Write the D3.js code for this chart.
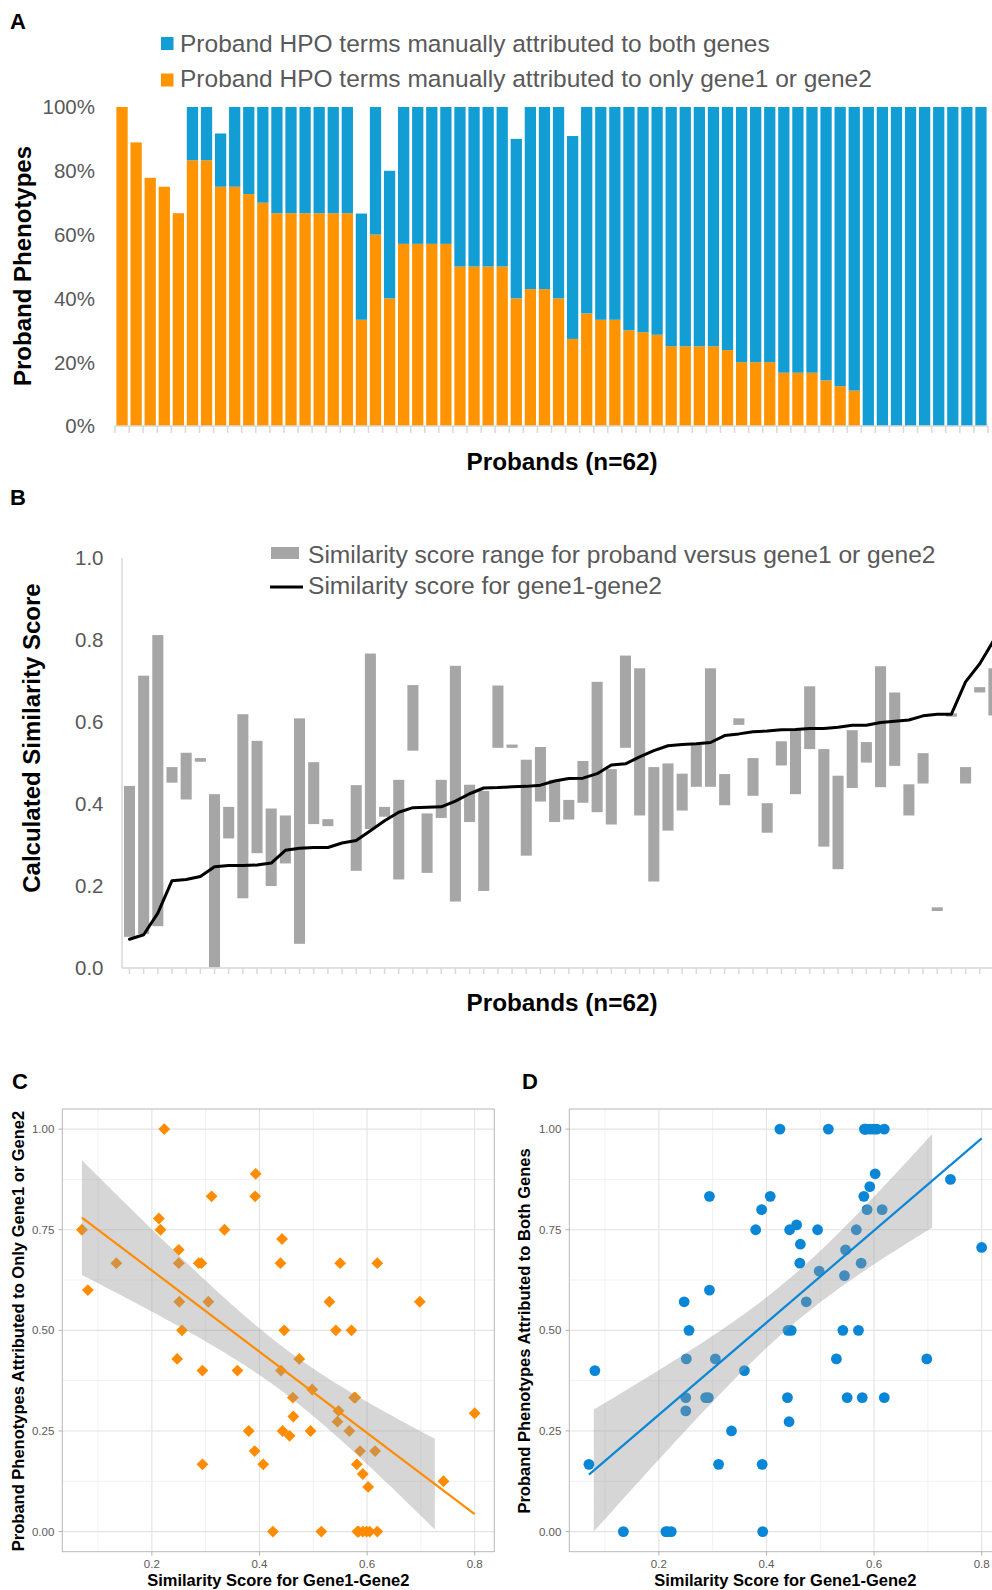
<!DOCTYPE html>
<html lang="en">
<head>
  <meta charset="UTF-8">
  <title>Proband phenotypes and similarity scores</title>
  <script src="https://d3js.org/d3.v7.min.js"></script>
  <style>
    body {
      margin: 0;
      padding: 0;
      background: #fff;
    }
    svg text {
      font-family: "Liberation Sans", Arial, sans-serif;
    }
  </style>
</head>
<body>
  <div id="chart"></div>

  <script>
    // ---- data, one entry per proband (order of panel A) ----
    const probandOnly = [1.0, 0.889, 0.778, 0.75, 0.667, 0.833, 0.833, 0.75, 0.75, 0.727,
      0.70, 0.667, 0.667, 0.667, 0.667, 0.667, 0.667, 0.333, 0.60, 0.40,
      0.571, 0.571, 0.571, 0.571, 0.50, 0.50, 0.50, 0.50, 0.40, 0.429,
      0.429, 0.40, 0.273, 0.353, 0.333, 0.333, 0.30, 0.294, 0.286, 0.25,
      0.25, 0.25, 0.25, 0.238, 0.20, 0.20, 0.20, 0.167, 0.167, 0.167,
      0.143, 0.125, 0.111, 0, 0, 0, 0, 0, 0, 0, 0, 0];
    const probandBoth = [0, 0, 0, 0, 0, 0.167, 0.167, 0.167, 0.25, 0.273,
      0.30, 0.333, 0.333, 0.333, 0.333, 0.333, 0.333, 0.333, 0.40, 0.40,
      0.429, 0.429, 0.429, 0.429, 0.50, 0.50, 0.50, 0.50, 0.50, 0.571,
      0.571, 0.60, 0.636, 0.647, 0.667, 0.667, 0.70, 0.706, 0.714, 0.75,
      0.75, 0.75, 0.75, 0.762, 0.80, 0.80, 0.80, 0.833, 0.833, 0.833,
      0.857, 0.875, 0.889, 1, 1, 1, 1, 1, 1, 1, 1, 1];
    // similarity score gene1-gene2 for each proband
    const geneSim = [0.223, 0.393, 0.213, 0.216, 0.134, 0.311, 0.392, 0.070, 0.335, 0.442,
      0.250, 0.250, 0.287, 0.292, 0.439, 0.550, 0.619, 0.578, 0.081, 0.359,
      0.251, 0.305, 0.530, 0.698, 0.256, 0.446, 0.542, 0.571, 0.440, 0.247,
      0.474, 0.294, 0.545, 0.498, 0.462, 0.576, 0.547, 0.800, 0.463, 0.380,
      0.443, 0.495, 0.567, 0.456, 0.391, 0.587, 0.615, 0.294, 0.407, 0.581,
      0.592, 0.742, 0.602, 0.425, 0.515, 0.582, 0.584, 0.584, 0.592, 0.599,
      0.605, 0.619];

    // panel B: score range proband vs gene1/gene2, ordered by gene1-gene2 score
    const rangeLo = [0.076, 0.083, 0.102, 0.452, 0.411, 0.503, 0.002, 0.316, 0.170, 0.280,
      0.200, 0.255, 0.059, 0.351, 0.346, null, 0.237, 0.339, 0.369, 0.216,
      0.530, 0.232, 0.366, 0.162, 0.356, 0.188, 0.537, 0.537, 0.274, 0.406,
      0.356, 0.362, 0.403, 0.380, 0.350, 0.537, 0.372, 0.211, 0.335, 0.384,
      0.442, 0.442, 0.397, 0.593, 0.420, 0.330, 0.494, 0.424, 0.534, 0.296,
      0.241, 0.439, 0.501, 0.441, 0.493, 0.372, 0.450, 0.139, 0.613, 0.450,
      0.672, 0.616];
    const rangeHi = [0.444, 0.713, 0.812, 0.490, 0.525, 0.512, 0.424, 0.393, 0.619, 0.554,
      0.389, 0.372, 0.609, 0.502, 0.363, null, 0.446, 0.767, 0.393, 0.459,
      0.690, 0.377, 0.459, 0.737, 0.447, 0.432, 0.689, 0.545, 0.508, 0.539,
      0.459, 0.410, 0.505, 0.698, 0.485, 0.762, 0.731, 0.490, 0.499, 0.474,
      0.544, 0.731, 0.473, 0.609, 0.512, 0.402, 0.553, 0.583, 0.687, 0.534,
      0.469, 0.580, 0.551, 0.736, 0.672, 0.448, 0.524, 0.148, 0.621, 0.490,
      0.685, 0.731];

    // x-extent of the confidence bands as drawn in panels C and D
    const bandExtentC = [0.070, 0.726];
    const bandExtentD = [0.079, 0.708];

    const legendA = ["Proband HPO terms manually attributed to both genes",
      "Proband HPO terms manually attributed to only gene1 or gene2"];
    const legendB = ["Similarity score range for proband versus gene1 or gene2",
      "Similarity score for gene1-gene2"];

    const W = 992, H = 1590;
    const ORANGE = "#FF9300", BLUE = "#129DD5", BAR_GREY = "#A6A6A6";
    const TXT = "#595959", AXIS = "#D9D9D9";
    const n = probandOnly.length;

    const svg = d3.select("#chart").append("svg")
      .attr("width", W)
      .attr("height", H);

    // panel letters
    [["A", 10, 29], ["B", 10, 505], ["C", 12, 1089], ["D", 522, 1089]].forEach(p => {
      svg.append("text").attr("x", p[1]).attr("y", p[2])
        .style("font-size", "22px").style("font-weight", "bold").text(p[0]);
    });

    // ================= Panel A =================
    const xA = d3.scaleBand().domain(d3.range(n)).range([115, 988])
      .paddingInner(0.2).paddingOuter(0.1);
    const yA = d3.scaleLinear().domain([0, 1]).range([426, 107]);

    const gA = svg.append("g");
    gA.selectAll("rect.only").data(probandOnly).enter().append("rect")
      .attr("x", (d, i) => xA(i))
      .attr("width", xA.bandwidth())
      .attr("y", d => yA(d))
      .attr("height", d => yA(0) - yA(d))
      .attr("fill", ORANGE);
    gA.selectAll("rect.both").data(probandBoth).enter().append("rect")
      .attr("x", (d, i) => xA(i))
      .attr("width", xA.bandwidth())
      .attr("y", (d, i) => yA(probandOnly[i] + d))
      .attr("height", (d, i) => yA(probandOnly[i]) - yA(probandOnly[i] + d))
      .attr("fill", BLUE);

    gA.append("line").attr("x1", 115).attr("x2", 988).attr("y1", yA(0)).attr("y2", yA(0))
      .attr("stroke", AXIS).attr("stroke-width", 1.5);
    gA.selectAll("line.tick").data(d3.range(n + 1)).enter().append("line")
      .attr("x1", i => 115 + i * xA.step()).attr("x2", i => 115 + i * xA.step())
      .attr("y1", yA(0)).attr("y2", yA(0) + 7)
      .attr("stroke", AXIS).attr("stroke-width", 1.5);

    gA.selectAll("text.ytick").data(yA.ticks(5)).enter().append("text")
      .attr("x", 95).attr("y", d => yA(d)).attr("dy", "0.36em")
      .attr("text-anchor", "end").attr("fill", TXT).style("font-size", "20.5px")
      .text(d3.format(".0%"));

    gA.append("text").attr("transform", "translate(31,266) rotate(-90)")
      .attr("text-anchor", "middle").style("font-size", "24px").style("font-weight", "bold")
      .text("Proband Phenotypes");
    gA.append("text").attr("x", 562).attr("y", 470)
      .attr("text-anchor", "middle").style("font-size", "24.3px").style("font-weight", "bold")
      .text("Probands (n=62)");

    [BLUE, ORANGE].forEach((c, i) => {
      gA.append("rect").attr("x", 161).attr("y", 37 + i * 36.5).attr("width", 12.5).attr("height", 13)
        .attr("fill", c);
      gA.append("text").attr("x", 180).attr("y", 51.5 + i * 35)
        .attr("fill", TXT).style("font-size", "24.5px").text(legendA[i]);
    });

    // ================= Panel B =================
    const xB = d3.scaleBand().domain(d3.range(n)).range([122.4, 1001])
      .paddingInner(0.22).paddingOuter(0.11);
    const yB = d3.scaleLinear().domain([0, 1]).range([968, 558]);
    const gB = svg.append("g");

    gB.append("line").attr("x1", 122).attr("x2", 122).attr("y1", 558).attr("y2", yB(0))
      .attr("stroke", AXIS).attr("stroke-width", 1.5);
    gB.append("line").attr("x1", 122).attr("x2", 1001).attr("y1", yB(0)).attr("y2", yB(0))
      .attr("stroke", AXIS).attr("stroke-width", 1.5);
    gB.selectAll("line.tick").data(d3.range(n)).enter().append("line")
      .attr("x1", i => xB(i) + xB.bandwidth() / 2).attr("x2", i => xB(i) + xB.bandwidth() / 2)
      .attr("y1", yB(0)).attr("y2", yB(0) + 6)
      .attr("stroke", AXIS).attr("stroke-width", 1.5);

    gB.selectAll("text.ytick").data(yB.ticks(5)).enter().append("text")
      .attr("x", 103.5).attr("y", d => yB(d)).attr("dy", "0.36em")
      .attr("text-anchor", "end").attr("fill", TXT).style("font-size", "20.5px")
      .text(d3.format(".1f"));

    const rangeData = rangeLo.map((lo, i) => ({ i, lo, hi: rangeHi[i] })).filter(d => d.lo !== null);
    gB.selectAll("rect.range").data(rangeData).enter().append("rect")
      .attr("x", d => xB(d.i))
      .attr("width", xB.bandwidth())
      .attr("y", d => yB(d.hi))
      .attr("height", d => Math.max(yB(d.lo) - yB(d.hi), 3))
      .attr("fill", BAR_GREY);

    const simSorted = geneSim.slice().sort(d3.ascending);
    const lineB = d3.line()
      .x((d, i) => xB(i) + xB.bandwidth() / 2)
      .y(d => yB(d));
    gB.append("path").datum(simSorted).attr("d", lineB)
      .attr("fill", "none").attr("stroke", "#000").attr("stroke-width", 3)
      .attr("stroke-linejoin", "round").attr("stroke-linecap", "round");

    gB.append("rect").attr("x", 271).attr("y", 547).attr("width", 28).attr("height", 12)
      .attr("fill", BAR_GREY);
    gB.append("line").attr("x1", 270).attr("x2", 303).attr("y1", 587).attr("y2", 587)
      .attr("stroke", "#000").attr("stroke-width", 3);
    legendB.forEach((t, i) => {
      gB.append("text").attr("x", 308).attr("y", 562.5 + i * 31)
        .attr("fill", TXT).style("font-size", "24.6px").text(t);
    });

    gB.append("text").attr("transform", "translate(40,738) rotate(-90)")
      .attr("text-anchor", "middle").style("font-size", "24px").style("font-weight", "bold")
      .text("Calculated Similarity Score");
    gB.append("text").attr("x", 562).attr("y", 1011)
      .attr("text-anchor", "middle").style("font-size", "24.3px").style("font-weight", "bold")
      .text("Probands (n=62)");

    // ================= Panels C and D =================
    function linFit(xs, ys) {
      const m = xs.length, mx = d3.mean(xs), my = d3.mean(ys);
      let sxx = 0, sxy = 0;
      xs.forEach((x, i) => { sxx += (x - mx) ** 2; sxy += (x - mx) * (ys[i] - my); });
      const b = sxy / sxx, a = my - b * mx;
      const sse = d3.sum(xs, (x, i) => (ys[i] - a - b * x) ** 2);
      return { a, b, mx, sxx, m, s: Math.sqrt(sse / (m - 2)) };
    }

    function scatter(opt) {
      const g = svg.append("g");
      const xDom = d3.extent(geneSim), xPad = (xDom[1] - xDom[0]) * 0.05;
      const x = d3.scaleLinear().domain([xDom[0] - xPad, xDom[1] + xPad]).range([opt.left, opt.left + 432]);
      const y = d3.scaleLinear().domain([-0.05, 1.05]).range([1551.7, 1109]);

      // grid
      const minorX = [0.1, 0.3, 0.5, 0.7], minorY = [0.125, 0.375, 0.625, 0.875];
      g.selectAll("line.mx").data(minorX).enter().append("line")
        .attr("x1", d => x(d)).attr("x2", d => x(d)).attr("y1", 1109).attr("y2", 1551.7)
        .attr("stroke", "#EEEEEE").attr("stroke-width", 0.8);
      g.selectAll("line.my").data(minorY).enter().append("line")
        .attr("x1", x.range()[0]).attr("x2", x.range()[1]).attr("y1", d => y(d)).attr("y2", d => y(d))
        .attr("stroke", "#EEEEEE").attr("stroke-width", 0.8);
      const xt = [0.2, 0.4, 0.6, 0.8], yt = [0, 0.25, 0.5, 0.75, 1];
      g.selectAll("line.gx").data(xt).enter().append("line")
        .attr("x1", d => x(d)).attr("x2", d => x(d)).attr("y1", 1109).attr("y2", 1551.7)
        .attr("stroke", "#E3E3E3").attr("stroke-width", 1.1);
      g.selectAll("line.gy").data(yt).enter().append("line")
        .attr("x1", x.range()[0]).attr("x2", x.range()[1]).attr("y1", d => y(d)).attr("y2", d => y(d))
        .attr("stroke", "#E3E3E3").attr("stroke-width", 1.1);

      // points
      const pts = geneSim.map((s, i) => ({ x: s, y: opt.ys[i] }));
      if (opt.shape === "diamond") {
        g.selectAll("path.pt").data(pts).enter().append("path")
          .attr("d", d3.symbol(d3.symbolSquare, 70))
          .attr("transform", d => `translate(${x(d.x)},${y(d.y)}) rotate(45)`)
          .attr("fill", opt.color);
      } else {
        g.selectAll("circle.pt").data(pts).enter().append("circle")
          .attr("cx", d => x(d.x)).attr("cy", d => y(d.y)).attr("r", 5.4)
          .attr("fill", opt.color);
      }

      // linear fit with 95% band
      const fit = linFit(geneSim, opt.ys);
      const tq = 2.0003;
      const se = v => fit.s * Math.sqrt(1 / fit.m + (v - fit.mx) ** 2 / fit.sxx);
      const bx = d3.range(0, 81).map(k => opt.band[0] + (opt.band[1] - opt.band[0]) * k / 80);
      const area = d3.area()
        .x(v => x(v))
        .y0(v => y(fit.a + fit.b * v - tq * se(v)))
        .y1(v => y(fit.a + fit.b * v + tq * se(v)));
      g.append("path").datum(bx).attr("d", area).attr("fill", "#999999").attr("fill-opacity", 0.4);
      g.append("line")
        .attr("x1", x(xDom[0])).attr("y1", y(fit.a + fit.b * xDom[0]))
        .attr("x2", x(xDom[1])).attr("y2", y(fit.a + fit.b * xDom[1]))
        .attr("stroke", opt.color).attr("stroke-width", 2.2);

      // frame, ticks, labels
      g.append("rect").attr("x", x.range()[0]).attr("y", 1109)
        .attr("width", 432).attr("height", 442.7)
        .attr("fill", "none").attr("stroke", "#B8B8B8").attr("stroke-width", 1);
      g.selectAll("line.tx").data(xt).enter().append("line")
        .attr("x1", d => x(d)).attr("x2", d => x(d)).attr("y1", 1551.7).attr("y2", 1555.5)
        .attr("stroke", "#B3B3B3");
      g.selectAll("line.ty").data(yt).enter().append("line")
        .attr("x1", x.range()[0] - 3.8).attr("x2", x.range()[0]).attr("y1", d => y(d)).attr("y2", d => y(d))
        .attr("stroke", "#B3B3B3");
      g.selectAll("text.tx").data(xt).enter().append("text")
        .attr("x", d => x(d)).attr("y", 1568).attr("text-anchor", "middle")
        .attr("fill", "#5A5A5A").style("font-size", "11.5px").text(d3.format(".1f"));
      g.selectAll("text.ty").data(yt).enter().append("text")
        .attr("x", x.range()[0] - 8).attr("y", d => y(d)).attr("dy", "0.36em").attr("text-anchor", "end")
        .attr("fill", "#5A5A5A").style("font-size", "11.5px").text(d3.format(".2f"));

      g.append("text").attr("x", opt.left + 216).attr("y", 1586).attr("text-anchor", "middle")
        .style("font-size", "16.5px").style("font-weight", "bold")
        .text("Similarity Score for Gene1-Gene2");
      g.append("text").attr("transform", `translate(${opt.titleX},1331) rotate(-90)`)
        .attr("text-anchor", "middle").style("font-size", "16.5px").style("font-weight", "bold")
        .text(opt.title);
    }

    scatter({
      left: 62.3, ys: probandOnly, color: "#FF8C00", shape: "diamond", band: bandExtentC,
      titleX: 23.5, title: "Proband Phenotypes Attributed to Only Gene1 or Gene2"
    });
    scatter({
      left: 569.3, ys: probandBoth, color: "#0A86D6", shape: "circle", band: bandExtentD,
      titleX: 530, title: "Proband Phenotypes Attributed to Both Genes"
    });
  </script>
</body>
</html>
